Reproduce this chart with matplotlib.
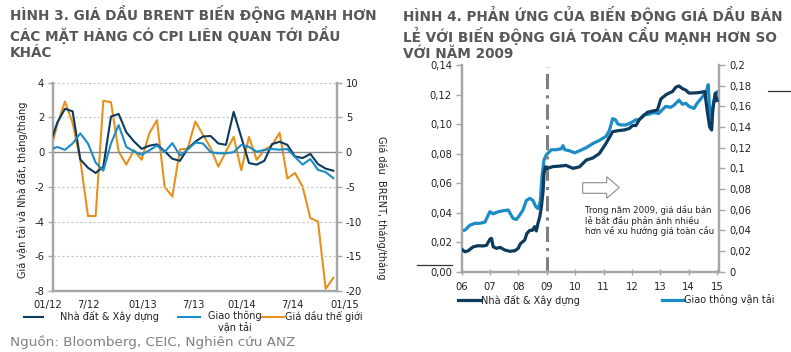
import matplotlib
matplotlib.use('Agg')
import matplotlib.pyplot as plt
import numpy as np
from matplotlib.lines import Line2D
from matplotlib.patches import Polygon

# ---------------- Data: Hình 3 (monthly, Dec 2011 .. Jan 2015) ----------------
months3 = list(range(-1, 37))  # month index, 0 = Jan 2012
housing3 = [0.4, 1.7, 2.5, 2.35, -0.42, -0.9, -1.2, -0.85, 2.05, 2.2, 1.15, 0.62,
            0.19, 0.37, 0.45, 0.05, -0.38, -0.5, 0.2, 0.6, 0.9, 0.93, 0.5, 0.42,
            2.32, 0.85, -0.63, -0.72, -0.5, 0.46, 0.6, 0.42, -0.25, -0.34, -0.1,
            -0.69, -0.95, -1.07]
transport3 = [0.12, 0.3, 0.13, 0.5, 1.08, 0.5, -0.6, -1.07, 0.5, 1.56, 0.3, 0.04,
              -0.15, 0.1, 0.38, 0.0, 0.52, -0.2, 0.15, 0.55, 0.5, 0.0, -0.07, -0.07,
              0.0, 0.42, 0.3, 0.03, 0.13, 0.18, 0.14, 0.18, -0.28, -0.72, -0.4,
              -1.02, -1.15, -1.5]
brent3 = [-0.3, 4.0, 7.3, 4.2, -1.1, -9.2, -9.2, 7.4, 7.2, 0.1, -1.8, 0.3,
          -1.1, 2.7, 4.6, -5.0, -6.4, 0.4, 0.5, 4.4, 2.5, 0.6, -2.1, 0.1,
          2.2, -2.6, 2.2, -1.1, 0.3, 1.0, 2.8, -3.8, -3.0, -5.0, -9.5,
          -10.0, -19.7, -18.1]
xlabels3 = ["01/12", "7/12", "01/13", "7/13", "01/14", "7/14", "01/15"]
xlabel_pos3 = [-1.2, 4.1, 11.1, 17.7, 24.0, 30.6, 37.5]
yl_ticks3 = [-8, -6, -4, -2, 0, 2, 4]
yr_ticks3 = [-20, -15, -10, -5, 0, 5, 10]

# ---------------- Data: Hình 4 ----------------
housing4_t = [2006.0, 2006.12, 2006.23, 2006.41, 2006.58, 2006.76, 2006.88, 2006.99,
              2007.05, 2007.11, 2007.23, 2007.35, 2007.52, 2007.70, 2007.87, 2007.99,
              2008.07, 2008.22, 2008.30, 2008.40, 2008.49, 2008.57, 2008.63, 2008.69,
              2008.75, 2008.81, 2008.87, 2008.90, 2008.95, 2009.01, 2009.22, 2009.45,
              2009.68, 2009.92, 2010.15, 2010.39, 2010.62, 2010.85, 2011.09, 2011.32,
              2011.50, 2011.73, 2011.91, 2012.02, 2012.14, 2012.26, 2012.43, 2012.55,
              2012.78, 2012.90, 2013.02, 2013.19, 2013.31, 2013.43, 2013.55, 2013.66,
              2013.78, 2013.90, 2014.01, 2014.13, 2014.36, 2014.57, 2014.65, 2014.74,
              2014.81, 2014.85, 2014.94, 2015.0]
housing4_v = [0.0151, 0.0135, 0.0142, 0.0169, 0.0176, 0.0174, 0.018, 0.0219,
              0.0226, 0.0169, 0.0158, 0.0165, 0.0147, 0.0138, 0.0142, 0.0158,
              0.019, 0.0214, 0.026, 0.028, 0.028, 0.0305, 0.0276, 0.033,
              0.037, 0.044, 0.055, 0.0666, 0.071, 0.070, 0.0712, 0.0715,
              0.072, 0.070, 0.071, 0.0756, 0.077, 0.080, 0.087, 0.0948,
              0.0955, 0.096, 0.097, 0.099, 0.099, 0.103, 0.106, 0.108,
              0.109, 0.1095, 0.117, 0.1197, 0.121, 0.122, 0.125, 0.1258,
              0.124, 0.123, 0.121, 0.121, 0.1213, 0.122, 0.1095, 0.098,
              0.096, 0.1095, 0.121, 0.116]
transport4_t = [2006.0, 2006.12, 2006.29, 2006.47, 2006.64, 2006.82, 2006.99, 2007.11,
                2007.29, 2007.46, 2007.64, 2007.81, 2007.93, 2008.05, 2008.16, 2008.28,
                2008.40, 2008.51, 2008.61, 2008.69, 2008.77, 2008.83, 2008.90, 2008.98,
                2009.16, 2009.33, 2009.51, 2009.57, 2009.63, 2009.80, 2009.98, 2010.15,
                2010.39, 2010.62, 2010.85, 2011.09, 2011.21, 2011.32, 2011.42, 2011.50,
                2011.61, 2011.79, 2011.91, 2012.02, 2012.14, 2012.26, 2012.43, 2012.55,
                2012.67, 2012.78, 2012.94, 2013.08, 2013.19, 2013.36, 2013.48, 2013.66,
                2013.78, 2013.90, 2014.01, 2014.19, 2014.30, 2014.48, 2014.62, 2014.69,
                2014.74, 2014.81, 2014.87, 2014.94, 2015.01]
transport4_v = [0.0397, 0.0403, 0.045, 0.0468, 0.0468, 0.048, 0.058, 0.056,
                0.058, 0.059, 0.0597, 0.0516, 0.0506, 0.055, 0.0597, 0.069,
                0.071, 0.069, 0.063, 0.061, 0.068, 0.092, 0.108, 0.113,
                0.118, 0.118, 0.119, 0.122, 0.118, 0.117, 0.115, 0.117,
                0.120, 0.124, 0.127, 0.131, 0.137, 0.148, 0.147, 0.143,
                0.142, 0.142, 0.1435, 0.145, 0.147, 0.147, 0.152, 0.152,
                0.153, 0.154, 0.153, 0.157, 0.160, 0.159, 0.161, 0.166,
                0.162, 0.163, 0.160, 0.158, 0.163, 0.169, 0.174, 0.181,
                0.156, 0.148, 0.163, 0.171, 0.174]
years4 = list(range(2006, 2016))
year_labels4 = ["06", "07", "08", "09", "10", "11", "12", "13", "14", "15"]
yl_ticks4 = [0, 0.02, 0.04, 0.06, 0.08, 0.10, 0.12, 0.14]
yl_labels4 = ["0,00", "0,02", "0,04", "0,06", "0,08", "0,10", "0,12", "0,14"]
yr_ticks4 = [0, 0.02, 0.04, 0.06, 0.08, 0.1, 0.12, 0.14, 0.16, 0.18, 0.2]
yr_labels4 = ["0", "0,02", "0,04", "0,06", "0,08", "0,1", "0,12", "0,14", "0,16", "0,18", "0,2"]

# ---------------- Styles ----------------
NAVY = '#0c3b5e'
LBLUE = '#1b8cc6'
ORANGE = '#e8901c'
SPINE = '#a6a6a6'
TXT = '#222222'
TITLE = '#585858'

W, H = 791, 352
plt.rcParams['font.family'] = ['DejaVu Sans']
fig = plt.figure(figsize=(W / 100, H / 100), dpi=100)

def px_axes(l, t, r, b):
    return fig.add_axes([l / W, 1 - b / H, (r - l) / W, (b - t) / H])

def fx(x):
    return x / W

def fy(y):
    return 1 - y / H

# ---------------- Titles ----------------
fig.text(fx(10), fy(5), "HÌNH 3. GIÁ DẦU BRENT BIẾN ĐỘNG MẠNH HƠN\nCÁC MẶT HÀNG CÓ CPI LIÊN QUAN TỚI DẦU\nKHÁC",
         fontsize=9.8, fontweight='bold', color=TITLE, va='top', ha='left', linespacing=1.2)
fig.text(fx(403), fy(6), "HÌNH 4. PHẢN ỨNG CỦA BIẾN ĐỘNG GIÁ DẦU BÁN\nLẺ VỚI BIẾN ĐỘNG GIÁ TOÀN CẦU MẠNH HƠN SO\nVỚI NĂM 2009",
         fontsize=9.8, fontweight='bold', color=TITLE, va='top', ha='left', linespacing=1.2)

# ---------------- Hình 3 ----------------
ax3 = px_axes(53.3, 82.7, 336.7, 291)
ax3r = ax3.twinx()
ax3.set_xlim(-0.52, 36.44)
ax3.set_ylim(-8, 4)
ax3r.set_ylim(-20, 10)
for y in [-6, -4, -2, 2, 4]:
    ax3.axhline(y, color='#c4c4c4', lw=0.8, ls=(0, (2, 2)), zorder=0)
ax3.axhline(0, color='#8a8a8a', lw=1.0, zorder=1)
ax3.plot(months3, housing3, color=NAVY, lw=1.5, zorder=3, clip_on=True)
ax3.plot(months3, transport3, color=LBLUE, lw=1.5, zorder=3, clip_on=True)
ax3r.plot(months3, brent3, color=ORANGE, lw=1.5, zorder=3, clip_on=True)
ax3.set_zorder(ax3r.get_zorder() + 1)
ax3.patch.set_visible(False)

for a in (ax3, ax3r):
    a.spines['top'].set_visible(False)
    for s in ('left', 'right', 'bottom'):
        a.spines[s].set_color(SPINE)
        a.spines[s].set_linewidth(1.6)
ax3.set_xticks([])
ax3.set_yticks(yl_ticks3)
ax3.set_yticklabels([str(v) for v in yl_ticks3])
ax3r.set_yticks(yr_ticks3)
ax3r.set_yticklabels([str(v) for v in yr_ticks3])
ax3.tick_params(axis='y', direction='out', length=3.5, width=1, color=SPINE,
                labelsize=7.2, labelcolor=TXT, pad=3)
ax3r.tick_params(axis='y', direction='out', length=3.5, width=1, color=SPINE,
                 labelsize=7.2, labelcolor=TXT, pad=3)
for p, lab in zip(xlabel_pos3, xlabels3):
    ax3.text(p, -0.065, lab, transform=ax3.get_xaxis_transform(), ha='center', va='center',
             fontsize=7.2, color=TXT, clip_on=False)

fig.text(fx(23), fy(190), "Giá vận tải và Nhà đất, tháng/tháng", rotation=90,
         ha='center', va='center', fontsize=7, color=TXT)
fig.text(fx(381), fy(208), "Giá dầu  BRENT, tháng/tháng", rotation=270,
         ha='center', va='center', fontsize=7, color=TXT)

# legend hình 3
fig.add_artist(Line2D([fx(24), fx(43)], [fy(316.5), fy(316.5)], color=NAVY, lw=1.5))
fig.text(fx(60), fy(316), "Nhà đất & Xây dựng", ha='left', va='center', fontsize=7, color=TXT)
fig.add_artist(Line2D([fx(178), fx(200)], [fy(316.5), fy(316.5)], color=LBLUE, lw=1.5))
fig.text(fx(235), fy(316), "Giao thông", ha='center', va='center', fontsize=7, color=TXT)
fig.text(fx(235), fy(328), "vận tải", ha='center', va='center', fontsize=7, color=TXT)
fig.add_artist(Line2D([fx(262), fx(284)], [fy(316.5), fy(316.5)], color=ORANGE, lw=1.5))
fig.text(fx(285), fy(316), "Giá dầu thế giới", ha='left', va='center', fontsize=7, color=TXT)

fig.text(fx(10), fy(342), "Nguồn: Bloomberg, CEIC, Nghiên cứu ANZ", ha='left', va='center',
         fontsize=9.7, color='#808080')

# ---------------- Hình 4 ----------------
ax4 = px_axes(461.7, 65, 719.3, 271.7)
ax4r = ax4.twinx()
ax4.set_xlim(2006, 2015.08)
ax4.set_ylim(0, 0.14)
ax4r.set_ylim(0, 0.2)
ax4.axvline(2009, ymin=0, ymax=0.99, color='#7f7f7f', lw=2.2, ls=(0, (5, 2, 1, 2)), zorder=1)
ax4r.plot(transport4_t, transport4_v, color=LBLUE, lw=2.3, zorder=3)
ax4.plot(housing4_t, housing4_v, color=NAVY, lw=2.3, zorder=3)
ax4.set_zorder(ax4r.get_zorder() + 1)
ax4.patch.set_visible(False)

for a in (ax4, ax4r):
    a.spines['top'].set_visible(False)
    for s in ('left', 'right', 'bottom'):
        a.spines[s].set_color(SPINE)
        a.spines[s].set_linewidth(1.6)
ax4.set_xticks(years4)
ax4.set_xticklabels(year_labels4)
ax4.tick_params(axis='x', direction='inout', length=5, width=1, color=SPINE,
                labelsize=7.2, labelcolor=TXT, pad=5)
ax4.set_yticks(yl_ticks4)
ax4.set_yticklabels(yl_labels4)
ax4.tick_params(axis='y', direction='out', length=4, width=1, color=SPINE,
                labelsize=7.2, labelcolor=TXT, pad=3)
ax4r.set_yticks(yr_ticks4)
ax4r.set_yticklabels(yr_labels4)
ax4r.tick_params(axis='y', direction='out', length=4, width=1, color=SPINE,
                 labelsize=7.2, labelcolor=TXT, pad=3)

# annotation arrow + text
arrow_px = [(582.7, 182.7), (606.7, 182.7), (606.7, 176.7), (619.3, 187.5),
            (606.7, 198.3), (606.7, 193.3), (582.7, 193.3)]
fig.add_artist(Polygon([(fx(x), fy(y)) for x, y in arrow_px], closed=True,
                       facecolor='white', edgecolor='#8c8c8c', lw=0.8,
                       transform=fig.transFigure))
for i, line in enumerate(["Trong năm 2009, giá dầu bán", "lẻ bắt đầu phản ánh nhiều",
                          "hơn về xu hướng giá toàn cầu"]):
    fig.text(fx(585), fy(210 + i * 10.5), line, ha='left', va='center', fontsize=6.2, color=TXT)

# legend hình 4
fig.add_artist(Line2D([fx(458), fx(481)], [fy(300), fy(300)], color=NAVY, lw=2.3))
fig.text(fx(481), fy(300), "Nhà đất & Xây dựng", ha='left', va='center', fontsize=7, color=TXT)
fig.add_artist(Line2D([fx(662), fx(684)], [fy(300), fy(300)], color=LBLUE, lw=2.3))
fig.text(fx(684), fy(300), "Giao thông vận tải", ha='left', va='center', fontsize=7, color=TXT)

# stray short lines present in the source image
fig.add_artist(Line2D([fx(417), fx(452)], [fy(265), fy(265)], color='#333333', lw=0.9))
fig.add_artist(Line2D([fx(768), fx(791)], [fy(91), fy(91)], color='#333333', lw=0.9))

fig.savefig('out.png', dpi=100)
